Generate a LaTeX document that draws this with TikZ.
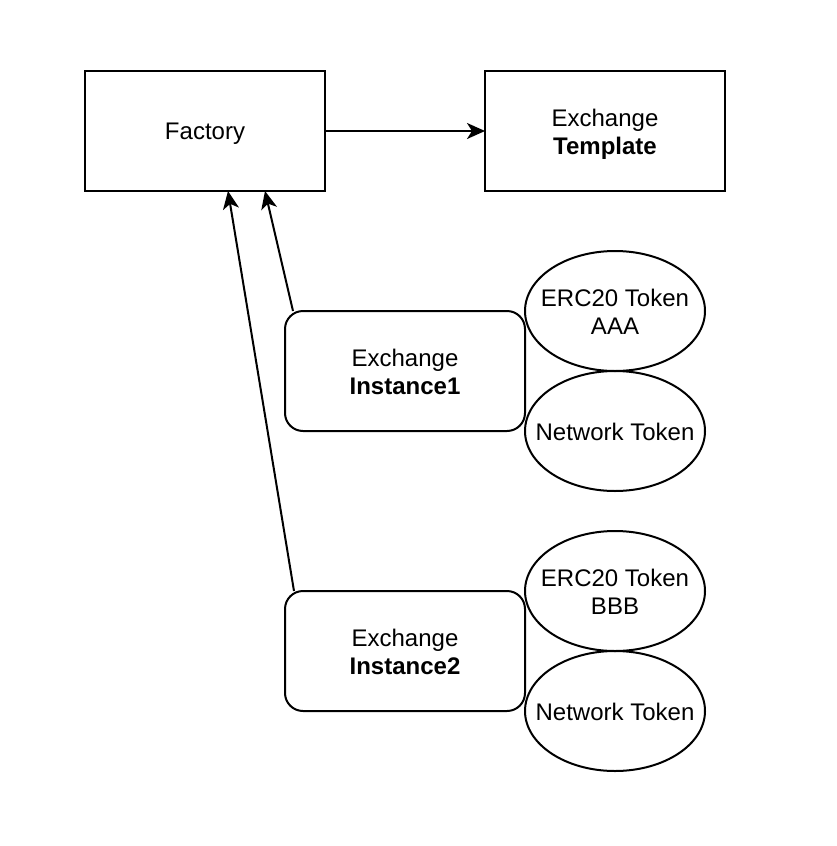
\documentclass[tikz,border=0pt]{standalone}
\usepackage{fontspec}
\setmainfont{Liberation Sans}
\usetikzlibrary{arrows.meta,calc}
\begin{document}
\begin{tikzpicture}[x=1pt,y=-1pt,
  every node/.style={font=\fontsize{24}{28}\selectfont, align=center, inner sep=0pt, outer sep=0pt},
  boxtext/.style={yshift=-3pt, label distance=0pt},
  insttext/.style={yshift=-1pt, label distance=0pt},
  rectbox/.style={draw, line width=2pt, minimum width=240pt, minimum height=120pt},
  roundbox/.style={rectbox, rounded corners=18pt},
  tokenell/.style={draw, line width=2pt},
  conn/.style={line width=2pt, -{Stealth[length=18pt, width=16pt, inset=5pt]}}]
\useasboundingbox (0,0) rectangle (836,846);
\node[rectbox, label={[boxtext]center:{Factory}}] (fac) at (205,131) {};
\node[rectbox, label={[boxtext]center:{Exchange\\\textbf{Template}}}] (tmpl) at (605,131) {};
\node[roundbox, label={[insttext]center:{Exchange\\\textbf{Instance1}}}] (inst1) at (405,371) {};
\node[roundbox, label={[insttext]center:{Exchange\\\textbf{Instance2}}}] (inst2) at (405,651) {};
\node (erc1) at (615,312) {ERC20 Token\\AAA};
\node (net1) at (615,432) {Network Token};
\node (erc2) at (615,592) {ERC20 Token\\BBB};
\node (net2) at (615,712) {Network Token};
\draw[tokenell] (615,311) ellipse [x radius=90pt, y radius=60pt];
\draw[tokenell] (615,431) ellipse [x radius=90pt, y radius=60pt];
\draw[tokenell] (615,591) ellipse [x radius=90pt, y radius=60pt];
\draw[tokenell] (615,711) ellipse [x radius=90pt, y radius=60pt];
\draw[conn] (fac.east) -- (tmpl.west);
\draw[conn] ($(inst1.north west)+(8,0)$) -- ($(fac.south)+(60,0)$);
\draw[conn] ($(inst2.north west)+(9,0)$) -- ($(fac.south)+(23,0)$);
\end{tikzpicture}
\end{document}
